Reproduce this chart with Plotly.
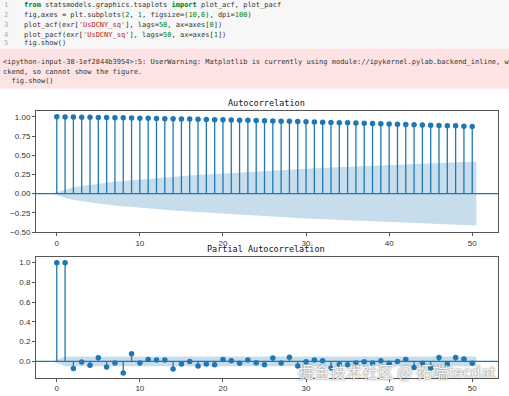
import plotly.graph_objects as go

W, H = 509, 396

lags = list(range(51))
acf_vals = [1.000, 0.998, 0.996, 0.995, 0.993, 0.991, 0.990, 0.988, 0.986, 0.984,
            0.982, 0.980, 0.978, 0.976, 0.974, 0.972, 0.970, 0.968, 0.966, 0.963,
            0.961, 0.959, 0.956, 0.954, 0.951, 0.949, 0.946, 0.943, 0.941, 0.938,
            0.935, 0.933, 0.930, 0.927, 0.924, 0.921, 0.918, 0.915, 0.912, 0.909,
            0.906, 0.903, 0.900, 0.897, 0.894, 0.891, 0.888, 0.885, 0.882, 0.878,
            0.875]
acf_conf = [0.0, 0.055, 0.082, 0.100, 0.116, 0.130, 0.143, 0.155, 0.165, 0.175,
            0.185, 0.194, 0.203, 0.211, 0.219, 0.227, 0.235, 0.242, 0.249, 0.256,
            0.263, 0.270, 0.276, 0.282, 0.288, 0.294, 0.300, 0.306, 0.312, 0.318,
            0.324, 0.329, 0.334, 0.339, 0.344, 0.349, 0.354, 0.359, 0.364, 0.369,
            0.374, 0.378, 0.382, 0.386, 0.390, 0.394, 0.398, 0.402, 0.406, 0.410,
            0.414]
pacf_vals = [1.0, 0.998, -0.073, -0.007, -0.04, 0.037, -0.057, -0.017, -0.117, 0.077,
             -0.017, 0.02, 0.013, 0.013, -0.077, -0.027, 0.0, -0.047, -0.027, -0.033,
             0.02, 0.007, -0.02, 0.013, -0.013, -0.033, 0.035, -0.017, 0.042, -0.047,
             -0.005, 0.013, 0.007, -0.068, -0.03, -0.035, -0.017, -0.003, -0.017, 0.007,
             -0.02, 0.0, 0.02, -0.063, -0.02, -0.067, 0.04, -0.027, 0.04, 0.023,
             -0.02]
pacf_conf = [0.0] + [0.05] * 50

acf_yticks = [-0.50, -0.25, 0.00, 0.25, 0.50, 0.75, 1.00]
pacf_yticks = [0.0, 0.2, 0.4, 0.6, 0.8, 1.0]
xticks = [0, 10, 20, 30, 40, 50]

code_lines = [
    "<span style='color:#008000'><b>from</b></span> statsmodels.graphics.tsaplots <span style='color:#008000'><b>import</b></span> plot_acf, plot_pacf",
    "fig,axes = plt.subplots(<span style='color:#008000'>2</span>, <span style='color:#008000'>1</span>, figsize=(<span style='color:#008000'>10</span>,<span style='color:#008000'>6</span>), dpi=<span style='color:#008000'>100</span>)",
    "plot_acf(exr[<span style='color:#BA2121'>'UsDCNY_sq'</span>], lags=<span style='color:#008000'>50</span>, ax=axes[<span style='color:#008000'>0</span>])",
    "plot_pacf(exr[<span style='color:#BA2121'>'UsDCNY_sq'</span>], lags=<span style='color:#008000'>50</span>, ax=axes[<span style='color:#008000'>1</span>])",
    "fig.show()",
]
warn_lines = [
    "&lt;ipython-input-38-1ef2844b3954&gt;:5: UserWarning: Matplotlib is currently using module://ipykernel.pylab.backend_inline, wh",
    "ckend, so cannot show the figure.",
    "&nbsp;&nbsp;fig.show()",
]

C0 = "#1f77b4"
BAND = "rgba(31,119,180,0.25)"


def py(p):
    return 1 - p / H


def px(p):
    return p / W


fig = go.Figure()


def add_corr(vals, conf, xa, ya):
    sx, sy = [], []
    for l, v in zip(lags, vals):
        sx += [l, l, None]
        sy += [0, v, None]
    fig.add_trace(go.Scatter(x=sx, y=sy, mode="lines", line=dict(color=C0, width=1.3),
                             xaxis=xa, yaxis=ya, hoverinfo="skip"))
    fig.add_trace(go.Scatter(x=lags, y=vals, mode="markers",
                             marker=dict(color=C0, size=5.5), xaxis=xa, yaxis=ya))
    bx = list(lags)
    bx[0] = bx[0] - 0.5
    bx[-1] = bx[-1] + 0.5
    poly_x = bx + bx[::-1]
    poly_y = list(conf) + [-c for c in conf[::-1]]
    fig.add_trace(go.Scatter(x=poly_x, y=poly_y, mode="lines", fill="toself",
                             fillcolor=BAND, line=dict(width=0), xaxis=xa, yaxis=ya,
                             hoverinfo="skip"))


add_corr(acf_vals, acf_conf, "x", "y")
add_corr(pacf_vals, pacf_conf, "x2", "y2")

axis_common = dict(showgrid=False, zeroline=False, showline=True, mirror=True,
                   linecolor="#555", linewidth=1, ticks="outside", ticklen=3,
                   tickcolor="#555", tickfont=dict(family="Liberation Sans", size=8, color="#333"))

xdom = [px(36), px(498)]
fig.update_layout(
    width=W, height=H, margin=dict(l=0, r=0, t=0, b=0),
    paper_bgcolor="white", plot_bgcolor="white", showlegend=False,
    xaxis=dict(domain=xdom, range=[-2.5, 53.1], tickvals=xticks, anchor="y", **axis_common),
    yaxis=dict(domain=[py(235), py(112.3)], range=[-0.5, 1.077], tickvals=acf_yticks,
               tickformat=".2f", anchor="x", **axis_common),
    xaxis2=dict(domain=xdom, range=[-2.5, 53.1], tickvals=xticks, anchor="y2", **axis_common),
    yaxis2=dict(domain=[py(382.7), py(260.7)], range=[-0.167, 1.053], tickvals=pacf_yticks,
                tickformat=".1f", anchor="x2", **axis_common),
)

# zero lines
for xr, yr in [("x domain", "y"), ("x2 domain", "y2")]:
    fig.add_shape(type="line", xref=xr, yref=yr, x0=0, x1=1, y0=0, y1=0,
                  line=dict(color=C0, width=1.3))

# notebook cell backgrounds
fig.add_shape(type="rect", xref="paper", yref="paper", x0=0, x1=1, y0=py(48), y1=1,
              fillcolor="#f7f7f7", line=dict(width=0), layer="below")
fig.add_shape(type="rect", xref="paper", yref="paper", x0=0, x1=1, y0=py(90), y1=py(49),
              fillcolor="#fde3e3", line=dict(width=0), layer="below")

mono = "DejaVu Sans Mono"
ann = []


def note(x, y, text, size, color, family=mono, xanchor="left", **kw):
    ann.append(dict(x=px(x), y=py(y), xref="paper", yref="paper", text=text,
                    showarrow=False, xanchor=xanchor, yanchor="middle",
                    font=dict(family=family, size=size, color=color, **kw)))


code_y = [5, 15, 25, 35, 44]
for i, (t, yy) in enumerate(zip(code_lines, code_y)):
    note(10, yy, str(i + 1), 7, "#aaa", xanchor="right")
    note(22, yy, t, 7, "#333")
for t, yy in zip(warn_lines, [63, 73, 82]):
    note(1, yy, t, 7, "#333")

note(266, 104, "Autocorrelation", 8.5, "#111", xanchor="center")
note(266, 252, "Partial Autocorrelation", 8.5, "#111", xanchor="center")
note(497, 376, "掘金技术社区 @ 拓端tecdat", 16, "rgba(255,255,255,0.92)",
     family="Noto Sans CJK SC", xanchor="right", shadow="0px 0px 2px #444")
fig.update_layout(annotations=ann)

fig.write_html("out.html", config={"displayModeBar": False},
               post_script="document.body.style.margin='0';")
